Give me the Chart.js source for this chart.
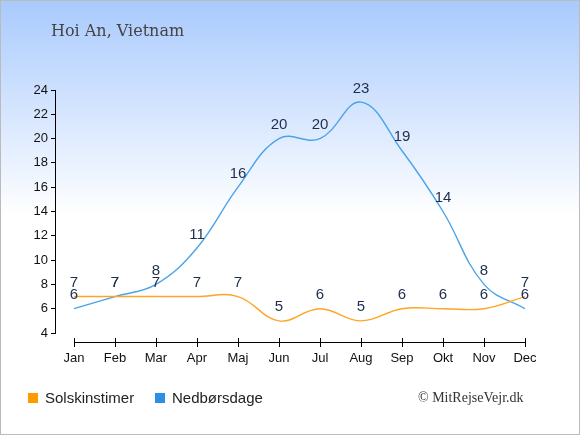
<!DOCTYPE html>
<html>
<head>
<meta charset="utf-8">
<script src="https://cdn.jsdelivr.net/npm/chart.js@4"></script>
<style>
  html, body { margin: 0; padding: 0; }
  #wrap {
    position: relative; width: 578px; height: 433px;
    border: 1px solid #bbb;
    background: linear-gradient(to bottom, #a9cafd 0px, #ffffff 215px, #ffffff 433px);
    font-family: "Liberation Sans", Arial, sans-serif;
  }
  #title {
    position: absolute; left: 50px; top: 20px;
    font-family: "DejaVu Serif", serif; font-size: 16px; color: #444;
  }
  .leg { position: absolute; top: 388px; font-size: 15px; color: #222; }
  .box { position: absolute; top: 4px; width: 10px; height: 10px; }
  #copy {
    position: absolute; left: 417px; top: 389px;
    font-family: "Liberation Serif", serif; font-size: 14px; color: #333;
  }
</style>
</head>
<body>
<div id="wrap">
  <canvas id="chart" width="578" height="433"></canvas>
  <div id="title">Hoi An, Vietnam</div>
  <div class="leg" style="left:27px"><span class="box" style="background:#ff9900"></span><span style="padding-left:17px">Solskinstimer</span></div>
  <div class="leg" style="left:154px"><span class="box" style="background:#2b8fe6"></span><span style="padding-left:17px">Nedbørsdage</span></div>
  <div id="copy">© MitRejseVejr.dk</div>
</div>
<script>
const months = ['Jan', 'Feb', 'Mar', 'Apr', 'Maj', 'Jun', 'Jul', 'Aug', 'Sep', 'Okt', 'Nov', 'Dec'];
const sunHours = [7, 7, 7, 7, 7, 5, 6, 5, 6, 6, 6, 7];
const rainDays = [6, 7, 8, 11, 16, 20, 20, 23, 19, 14, 8, 6];
const yTicks = [4, 6, 8, 10, 12, 14, 16, 18, 20, 22, 24];

// tal over hvert punkt
const valueLabels = {
    id: 'valueLabels',
    afterDatasetsDraw(chart) {
        const ctx = chart.ctx;
        ctx.save();
        ctx.fillStyle = '#1f2d4d';
        ctx.font = '15px "Liberation Sans", Arial, sans-serif';
        ctx.textAlign = 'center';
        ctx.textBaseline = 'bottom';
        chart.data.datasets.forEach((ds, di) => {
            chart.getDatasetMeta(di).data.forEach((pt, i) => {
                ctx.fillText(ds.data[i].y, pt.x, pt.y - 6);
            });
        });
        ctx.restore();
    }
};

// x-aksen tegnes lidt under plotområdet
const xAxisLine = {
    id: 'xAxisLine',
    afterDraw(chart) {
        const ctx = chart.ctx;
        const x = chart.scales.x;
        const y = chart.chartArea.bottom + 9;
        ctx.save();
        ctx.strokeStyle = '#000';
        ctx.lineWidth = 1;
        ctx.beginPath();
        ctx.moveTo(x.getPixelForValue(0), y + 0.5);
        ctx.lineTo(x.getPixelForValue(months.length - 1), y + 0.5);
        months.forEach((m, i) => {
            const px = Math.round(x.getPixelForValue(i)) + 0.5;
            ctx.moveTo(px, y - 4);
            ctx.lineTo(px, y + 5);
        });
        ctx.stroke();
        ctx.restore();
    }
};

new Chart(document.getElementById('chart'), {
    type: 'line',
    data: {
        datasets: [
            {
                label: 'Solskinstimer',
                data: sunHours.map((v, i) => ({ x: i, y: v })),
                borderColor: '#ffa424',
                borderWidth: 1.4,
                pointRadius: 0,
                tension: 0.4,
                fill: false,
            },
            {
                label: 'Nedbørsdage',
                data: rainDays.map((v, i) => ({ x: i, y: v })),
                borderColor: '#4aa3ea',
                borderWidth: 1.4,
                pointRadius: 0,
                tension: 0.4,
                fill: false,
            },
        ],
    },
    options: {
        responsive: false,
        animation: false,
        layout: { padding: { left: 0, top: 89, right: 54, bottom: 0 } },
        plugins: {
            legend: { display: false },
            tooltip: { enabled: false },
        },
        scales: {
            x: {
                type: 'linear',
                min: -0.463,
                max: 11,
                afterFit: (s) => { s.height = 101; },
                grid: { display: false },
                border: { display: false },
                ticks: {
                    stepSize: 1,
                    includeBounds: false,
                    padding: 10,
                    color: '#111',
                    font: { size: 13, family: '"Liberation Sans", Arial, sans-serif' },
                    callback: (v) => months[v],
                },
            },
            y: {
                min: 4,
                max: 24,
                afterFit: (s) => { s.width = 54; },
                afterBuildTicks: (s) => { s.ticks = yTicks.map((v) => ({ value: v })); },
                grid: { drawOnChartArea: false, tickLength: 4, color: '#000' },
                border: { display: true, color: '#000' },
                ticks: {
                    padding: 3,
                    color: '#111',
                    font: { size: 13, family: '"Liberation Sans", Arial, sans-serif' },
                },
            },
        },
    },
    plugins: [valueLabels, xAxisLine],
});
</script>
</body>
</html>
